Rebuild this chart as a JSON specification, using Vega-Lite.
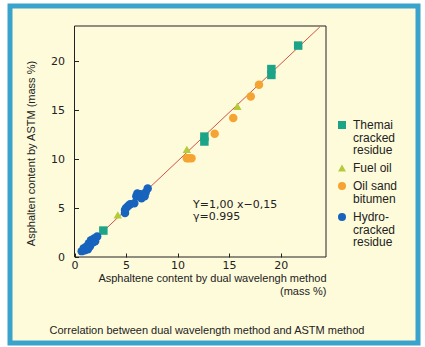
{
  "$schema": "https://vega.github.io/schema/vega-lite/v6.json",
  "width": 408,
  "height": 337,
  "autosize": {"type": "none"},
  "padding": {"left": 10, "top": 6, "right": 7, "bottom": 4},
  "background": "white",
  "config": {
    "view": {"fill": "#FEFBDB", "stroke": "#3AA3CB", "strokeWidth": 5},
    "font": "Liberation Sans",
    "style": {"guide-label": {"dy": -5, "lineHeight": 12.5}}
  },
  "title": {
    "text": "Correlation between dual wavelength  method and ASTM method",
    "orient": "bottom",
    "frame": "group",
    "anchor": "middle",
    "offset": -18,
    "dx": -7,
    "fontSize": 11,
    "fontWeight": "normal",
    "font": "Liberation Sans",
    "color": "#222"
  },
  "datasets": {
    "pts": [
      {"x": 2.8, "y": 2.7, "s": "Themai cracked residue"},
      {"x": 12.6, "y": 11.8, "s": "Themai cracked residue"},
      {"x": 12.6, "y": 12.3, "s": "Themai cracked residue"},
      {"x": 19.1, "y": 18.6, "s": "Themai cracked residue"},
      {"x": 19.1, "y": 19.2, "s": "Themai cracked residue"},
      {"x": 21.7, "y": 21.6, "s": "Themai cracked residue"},
      {"x": 4.2, "y": 4.3, "s": "Fuel oil"},
      {"x": 10.9, "y": 11.0, "s": "Fuel oil"},
      {"x": 15.8, "y": 15.4, "s": "Fuel oil"},
      {"x": 10.9, "y": 10.1, "s": "Oil sand bitumen"},
      {"x": 11.1, "y": 10.1, "s": "Oil sand bitumen"},
      {"x": 11.35, "y": 10.1, "s": "Oil sand bitumen"},
      {"x": 13.6, "y": 12.6, "s": "Oil sand bitumen"},
      {"x": 15.4, "y": 14.2, "s": "Oil sand bitumen"},
      {"x": 17.1, "y": 16.4, "s": "Oil sand bitumen"},
      {"x": 17.9, "y": 17.6, "s": "Oil sand bitumen"},
      {"x": 0.7, "y": 0.6, "s": "Hydro-cracked residue"},
      {"x": 0.9, "y": 0.9, "s": "Hydro-cracked residue"},
      {"x": 1.0, "y": 0.7, "s": "Hydro-cracked residue"},
      {"x": 1.2, "y": 1.1, "s": "Hydro-cracked residue"},
      {"x": 1.3, "y": 0.8, "s": "Hydro-cracked residue"},
      {"x": 1.4, "y": 1.4, "s": "Hydro-cracked residue"},
      {"x": 1.5, "y": 1.1, "s": "Hydro-cracked residue"},
      {"x": 1.6, "y": 1.7, "s": "Hydro-cracked residue"},
      {"x": 1.8, "y": 1.5, "s": "Hydro-cracked residue"},
      {"x": 1.9, "y": 1.9, "s": "Hydro-cracked residue"},
      {"x": 2.0, "y": 1.6, "s": "Hydro-cracked residue"},
      {"x": 2.2, "y": 2.1, "s": "Hydro-cracked residue"},
      {"x": 4.9, "y": 4.5, "s": "Hydro-cracked residue"},
      {"x": 4.9, "y": 4.8, "s": "Hydro-cracked residue"},
      {"x": 5.0, "y": 5.0, "s": "Hydro-cracked residue"},
      {"x": 5.2, "y": 5.2, "s": "Hydro-cracked residue"},
      {"x": 5.4, "y": 5.4, "s": "Hydro-cracked residue"},
      {"x": 5.8, "y": 5.5, "s": "Hydro-cracked residue"},
      {"x": 6.0, "y": 6.2, "s": "Hydro-cracked residue"},
      {"x": 6.1, "y": 6.5, "s": "Hydro-cracked residue"},
      {"x": 6.4, "y": 6.4, "s": "Hydro-cracked residue"},
      {"x": 6.5, "y": 6.0, "s": "Hydro-cracked residue"},
      {"x": 6.8, "y": 6.2, "s": "Hydro-cracked residue"},
      {"x": 6.9, "y": 6.6, "s": "Hydro-cracked residue"},
      {"x": 7.1, "y": 7.0, "s": "Hydro-cracked residue"}
    ],
    "fit": [
      {"x": 0.6, "y": 0.45},
      {"x": 23.8, "y": 23.5}
    ]
  },
  "layer": [
    {
      "data": {"values": [{}]},
      "mark": {"type": "rect", "filled": false, "stroke": "#222", "strokeWidth": 1},
      "encoding": {
        "x": {"datum": 0, "type": "quantitative"},
        "x2": {"datum": 24.4},
        "y": {"datum": 0, "type": "quantitative"},
        "y2": {"datum": 23.6}
      }
    },
    {
      "data": {"name": "fit"},
      "mark": {"type": "line", "color": "#D0524A", "strokeWidth": 1},
      "encoding": {
        "x": {"field": "x", "type": "quantitative"},
        "y": {"field": "y", "type": "quantitative"}
      }
    },
    {
      "data": {"name": "pts"},
      "mark": {"type": "point", "filled": true, "size": 72, "opacity": 1, "strokeWidth": 0},
      "encoding": {
        "x": {
          "field": "x",
          "type": "quantitative",
          "scale": {"domain": [0, 24.4], "range": [64.5, 316], "nice": false, "zero": false},
          "axis": {
            "title": ["Asphaltene content by dual wavelengh method", "(mass %)"],
            "values": [0, 5, 10, 15, 20],
            "offset": -86,
            "domain": false,
            "grid": false,
            "tickSize": -4,
            "tickColor": "#222",
            "labelPadding": 11,
            "labelFlush": false,
            "labelFont": "DejaVu Sans",
            "labelFontSize": 11,
            "labelColor": "#222",
            "titleFont": "Liberation Sans",
            "titleFontSize": 11,
            "titleFontWeight": "normal",
            "titleColor": "#222",
            "titleAnchor": "end",
            "titleAlign": "right",
            "titleLineHeight": 13,
            "titlePadding": 2
          }
        },
        "y": {
          "field": "y",
          "type": "quantitative",
          "scale": {"domain": [0, 23.6], "range": [251, 20], "nice": false, "zero": false},
          "axis": {
            "title": "Asphalten content by ASTM (mass %)",
            "values": [0, 5, 10, 15, 20],
            "offset": -64.5,
            "domain": false,
            "grid": false,
            "tickSize": -4,
            "tickColor": "#222",
            "labelPadding": 14,
            "labelOffset": 5,
            "labelFlush": false,
            "labelFont": "DejaVu Sans",
            "labelFontSize": 11,
            "labelColor": "#222",
            "titleFont": "Liberation Sans",
            "titleFontSize": 11,
            "titleFontWeight": "normal",
            "titleColor": "#222",
            "titleY": 147,
            "titlePadding": 14
          }
        },
        "color": {
          "field": "s",
          "type": "nominal",
          "scale": {
            "domain": ["Themai cracked residue", "Fuel oil", "Oil sand bitumen", "Hydro-cracked residue"],
            "range": ["#1BA487", "#B5CB3A", "#F6A431", "#1763BE"]
          },
          "legend": {
            "orient": "none",
            "legendX": 326,
            "legendY": 113,
            "title": null,
            "labelFont": "Liberation Sans",
            "labelFontSize": 12,
            "labelColor": "#222",
            "symbolSize": 64,
            "symbolStrokeWidth": 0,
            "labelOffset": 5,
            "rowPadding": 6,
            "labelBaseline": "top",
            "labelExpr": "datum.label == 'Themai cracked residue' ? ['Themai','cracked','residue'] : datum.label == 'Oil sand bitumen' ? ['Oil sand','bitumen'] : datum.label == 'Hydro-cracked residue' ? ['Hydro-','cracked','residue'] : datum.label"
          }
        },
        "shape": {
          "field": "s",
          "type": "nominal",
          "scale": {
            "domain": ["Themai cracked residue", "Fuel oil", "Oil sand bitumen", "Hydro-cracked residue"],
            "range": ["square", "triangle-up", "circle", "circle"]
          }
        }
      }
    },
    {
      "data": {"values": [{}]},
      "mark": {
        "type": "text",
        "align": "left",
        "baseline": "top",
        "font": "DejaVu Sans",
        "fontSize": 11,
        "lineHeight": 12,
        "color": "#222",
        "text": ["Y=1,00 x−0,15", " γ=0.995"]
      },
      "encoding": {
        "x": {"datum": 11.5, "type": "quantitative"},
        "y": {"datum": 5.9, "type": "quantitative"}
      }
    }
  ]
}
